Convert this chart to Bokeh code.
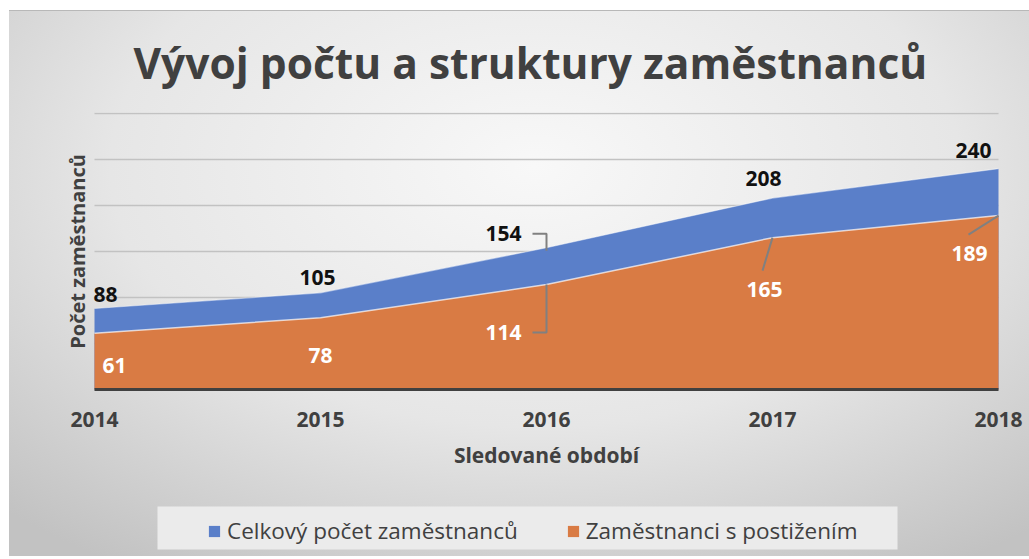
import math
from bokeh.plotting import figure
from bokeh.models import (Range1d, ColumnDataSource, LabelSet, Label, Legend, LegendItem,
                          FixedTicker)
from bokeh.core.properties import value
from bokeh.embed import file_html
from bokeh.resources import INLINE

# ---- data ----
years = [2014, 2015, 2016, 2017, 2018]
total = [88, 105, 154, 208, 240]
disabled = [61, 78, 114, 165, 189]
series_names = ["Celkový počet zaměstnanců", "Zaměstnanci s postižením"]
title_text = "Vývoj počtu a struktury zaměstnanců"
x_title = "Sledované období"
y_title = "Počet zaměstnanců"
y_max = 300
y_step = 50

# ---- layout / style ----
W, H = 1029, 556
FL, FR = 62, 1029          # frame left / right (px)
MT = 112                   # frame top (px)
X0, X1 = 94, 998           # px of first / last year
PLOT_H = 277               # px from y=0 to the top of the value range
EXT = 166                  # px of frame below y=0 (room for axis labels + legend)
FW = FR - FL
FH = PLOT_H + EXT
BLUE = "#5a7fc9"
ORANGE = "#d97b44"
TXT = "#404040"
FONT = "Open Sans"

px_year = (X1 - X0) / (years[-1] - years[0])
px_unit = PLOT_H / (y_max + 1)

# label offsets (px right, px up)
total_off = [(11, 14), (-3, 15), (-43, 14), (-9, 20), (-25, 18)]
dis_off = [(20, -32), (0, -38), (-43, -48), (-8, -52), (-29, -38)]
# leader lines: (series, index, list of (dx, dy_down) in px)
leaders = [("t", 2, [(-14, -14), (0, -14), (0, 3)]),
           ("d", 2, [(-14, 48), (0, 48), (0, 0)]),
           ("d", 3, [(-10, 33), (0, 0)]),
           ("d", 4, [(-30, 19), (0, 0)])]
# legend box in px relative to first year / the y=0 line (down positive)
LEG_L, LEG_R, LEG_T, LEG_B = 63, 803, 117, 160

p = figure(frame_width=FW, frame_height=FH, output_backend="svg", toolbar_location=None,
           x_range=Range1d(years[0] - (X0 - FL) / px_year, years[-1] + (FR - X1) / px_year),
           y_range=Range1d(-EXT / px_unit, y_max + 1),
           min_border_left=FL, min_border_right=W - FR,
           min_border_top=MT, min_border_bottom=H - MT - FH,
           background_fill_color=None, border_fill_color=None,
           outline_line_color=None)
p.styles = {"background": (
    "linear-gradient(#ffffff, #ffffff) 0 0 / 100% 10px no-repeat, "
    "linear-gradient(#ffffff, #ffffff) 0 0 / 9px 100% no-repeat, "
    "linear-gradient(#b8b8b8, #b8b8b8) 0 10px / 100% 1px no-repeat, "
    "radial-gradient(ellipse 75% 85% at 52% 30%, #f8f8f8 0%, #e6e6e6 55%, #c2c2c2 100%)")}

# title
p.title.text = title_text
p.title.align = "left"
p.title.offset = 133 - FL
p.title.text_font = FONT
p.title.text_font_size = "42.5px"
p.title.text_font_style = "bold"
p.title.text_color = TXT
p.title.standoff = 43

# grid lines between the first and last year
p.xgrid.grid_line_color = None
p.ygrid.grid_line_color = None
grid_vals = list(range(y_step, y_max + 1, y_step))
p.segment(x0=[years[0]] * len(grid_vals), x1=[years[-1]] * len(grid_vals),
          y0=grid_vals, y1=grid_vals, line_color="#c2c2c2", line_width=1.5,
          level="underlay")

# y axis: hidden (no tick labels in the reference), title as a label
p.yaxis.visible = False
p.add_layout(Label(x=years[0], y=y_max / 2, x_offset=-17, text=y_title,
                   angle=math.pi / 2, text_align="center", text_baseline="middle",
                   text_font=FONT, text_font_size="20px",
                   text_font_style="bold", text_color=TXT))

# x axis, drawn at y = 0 inside the frame
xa = p.xaxis[0]
xa.fixed_location = 0
xa.bounds = (years[0], years[-1])
xa.ticker = FixedTicker(ticks=years, minor_ticks=[])
xa.axis_line_color = TXT
xa.axis_line_width = 3
xa.major_tick_line_color = None
xa.minor_tick_line_color = None
xa.major_tick_out = 0
xa.major_tick_in = 0
xa.major_label_standoff = 22
xa.major_label_text_font = FONT
xa.major_label_text_font_size = "21px"
xa.major_label_text_font_style = "bold"
xa.major_label_text_color = TXT
xa.axis_label = x_title
xa.axis_label_text_font = FONT
xa.axis_label_text_font_size = "21px"
xa.axis_label_text_font_style = "bold"
xa.axis_label_text_color = TXT
xa.axis_label_standoff = 11

# areas
r1 = p.varea(x=years, y1=0, y2=total, fill_color=BLUE)
r2 = p.varea(x=years, y1=0, y2=disabled, fill_color=ORANGE)
p.line(years, total, line_color="white", line_alpha=0.45, line_width=1.2)
p.line(years, disabled, line_color="white", line_alpha=0.7, line_width=1.5)

# leader lines
lx, ly = [], []
for s, i, pts in leaders:
    vals = total if s == "t" else disabled
    lx.append([years[i] + dx / px_year for dx, dy in pts])
    ly.append([vals[i] - dy / px_unit for dx, dy in pts])
p.multi_line(lx, ly, line_color="#808080", line_width=2)

# data labels
src_t = ColumnDataSource(dict(x=years, y=total, t=[str(v) for v in total],
                              xo=[o[0] for o in total_off], yo=[o[1] for o in total_off]))
src_d = ColumnDataSource(dict(x=years, y=disabled, t=[str(v) for v in disabled],
                              xo=[o[0] for o in dis_off], yo=[o[1] for o in dis_off]))
for src, col in ((src_t, "#111111"), (src_d, "#ffffff")):
    ls = LabelSet(x="x", y="y", text="t", x_offset="xo", y_offset="yo", source=src,
                  text_align="center", text_baseline="middle",
                  text_font=value(FONT),
                  text_font_size="21px", text_font_style="bold", text_color=col)
    p.add_layout(ls)

# legend box + legend
p.quad(left=years[0] + LEG_L / px_year, right=years[0] + LEG_R / px_year,
       top=-LEG_T / px_unit, bottom=-LEG_B / px_unit,
       fill_color="#ebebeb", line_color=None)
legend = Legend(items=[LegendItem(label=series_names[0], renderers=[r1]),
                       LegendItem(label=series_names[1], renderers=[r2])],
                orientation="horizontal", location=(X0 - FL + 113, 9),
                background_fill_alpha=0, border_line_color=None,
                label_text_font=FONT, label_text_font_size="22.5px",
                label_text_color=TXT, glyph_width=14, glyph_height=14,
                label_standoff=6, spacing=48, padding=0, margin=0)
p.add_layout(legend)

open("out.html", "w").write(file_html(p, INLINE))
